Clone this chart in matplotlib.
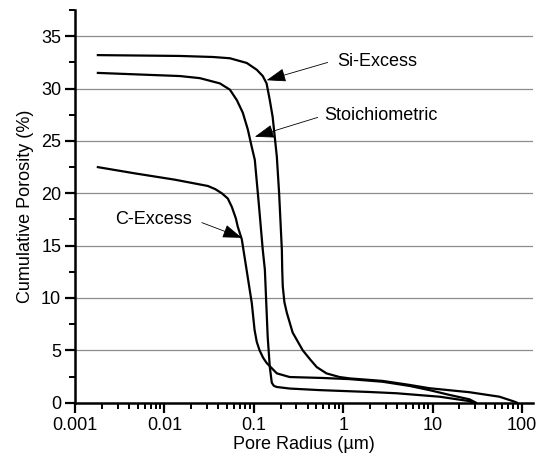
import matplotlib
matplotlib.use("Agg")
import matplotlib.pyplot as plt
from matplotlib.ticker import FixedLocator, LogLocator, NullFormatter, FixedFormatter, MultipleLocator

plt.rcParams['font.family'] = ['Liberation Sans', 'DejaVu Sans']

# ---- data (pore radius in um, cumulative porosity in %) ----
si_r = [0.0018, 0.0069, 0.0149, 0.035, 0.054, 0.0834, 0.108, 0.126, 0.139, 0.151, 0.1625,
        0.181, 0.192, 0.206, 0.208, 0.211, 0.22, 0.234, 0.272, 0.353, 0.43,
        0.506, 0.65, 0.91, 1.18, 2.76, 5.5, 9.25, 25.9, 56.1, 82.5, 88.0]
si_p = [33.2, 33.15, 33.12, 33.02, 32.9, 32.45, 31.8, 31.2, 30.5, 28.9, 27.3,
        23.5, 20.0, 14.6, 12.7, 11.1, 9.6, 8.6, 6.7, 5.0, 4.1,
        3.4, 2.8, 2.45, 2.32, 2.08, 1.7, 1.38, 1.0, 0.57, 0.1, 0.0]

st_r = [0.0018, 0.0149, 0.0249, 0.0417, 0.054, 0.0646, 0.0753, 0.0857, 0.095, 0.1026,
        0.114, 0.126, 0.133, 0.143, 0.151, 0.159, 0.168, 0.181, 0.252, 0.546,
        1.98, 3.96, 12.0, 25.9, 28.0]
st_p = [31.5, 31.2, 31.0, 30.5, 29.9, 28.9, 27.7, 26.1, 24.4, 23.2,
        18.9, 14.6, 12.7, 6.3, 3.4, 1.9, 1.6, 1.5, 1.35, 1.2,
        1.02, 0.9, 0.57, 0.15, 0.0]

c_r = [0.0018, 0.0047, 0.0131, 0.0306, 0.037, 0.0439, 0.0512, 0.0568, 0.063, 0.0662,
       0.0734, 0.083, 0.095, 0.102, 0.108, 0.116, 0.127, 0.139, 0.181, 0.252,
       0.59, 1.18, 2.76, 5.53, 9.25, 15.5, 25.9, 30.6]
c_p = [22.5, 21.9, 21.3, 20.7, 20.4, 20.0, 19.5, 18.7, 17.6, 16.8,
       15.6, 12.7, 9.5, 6.95, 5.8, 5.0, 4.3, 3.8, 2.8, 2.45,
       2.36, 2.25, 2.0, 1.6, 1.2, 0.74, 0.32, 0.0]

labels = ["Si-Excess", "Stoichiometric", "C-Excess"]
# arrow tip, arrow tail and text anchor (data coords)
tips = [(0.139, 30.8), (0.1026, 25.4), (0.0734, 15.75)]
tails = [(0.671, 32.5), (0.519, 27.25), (0.0262, 17.2)]
text_pos = [(0.868, 32.6), (0.621, 27.4), (0.0028, 17.45)]

x_ticks = [0.001, 0.01, 0.1, 1, 10, 100]
x_ticklabels = ["0.001", "0.01", "0.1", "1", "10", "100"]

fig = plt.figure(figsize=(5.4, 4.59), dpi=100)
ax = fig.add_axes([0.139, 0.1227, 0.848, 0.8553])

for yv in range(5, 40, 5):
    ax.axhline(yv, color="#8c8c8c", lw=0.9, zorder=0)

for r, p in [(si_r, si_p), (st_r, st_p), (c_r, c_p)]:
    ax.plot(r, p, color="black", lw=1.6, solid_joinstyle="round")

for lab, tip, tail, tp in zip(labels, tips, tails, text_pos):
    ax.annotate("", xy=tip, xytext=tail,
                arrowprops=dict(arrowstyle="-|>,head_length=1.0,head_width=0.35",
                                mutation_scale=12, lw=0.6, color="black",
                                shrinkA=0, shrinkB=0))
    ax.text(tp[0], tp[1], lab, ha="left", va="center", fontsize=13)

ax.set_xscale("log")
ax.set_xlim(0.001, 133)
ax.set_ylim(0, 37.5)

ax.xaxis.set_major_locator(FixedLocator(x_ticks))
ax.xaxis.set_major_formatter(FixedFormatter(x_ticklabels))
ax.xaxis.set_minor_locator(LogLocator(base=10, subs=range(2, 10)))
ax.xaxis.set_minor_formatter(NullFormatter())
ax.yaxis.set_major_locator(MultipleLocator(5))
ax.yaxis.set_minor_locator(MultipleLocator(2.5))

ax.tick_params(which="major", direction="out", length=7, width=1.6, labelsize=13, pad=3)
ax.tick_params(which="minor", direction="out", length=4, width=1.4)

for s in ["top", "right"]:
    ax.spines[s].set_visible(False)
for s in ["left", "bottom"]:
    ax.spines[s].set_linewidth(1.8)

ax.set_xlabel("Pore Radius (\u00b5m)", fontsize=13, labelpad=2)
ax.set_ylabel("Cumulative Porosity (%)", fontsize=13, labelpad=5)

fig.savefig("out.png", dpi=100)
